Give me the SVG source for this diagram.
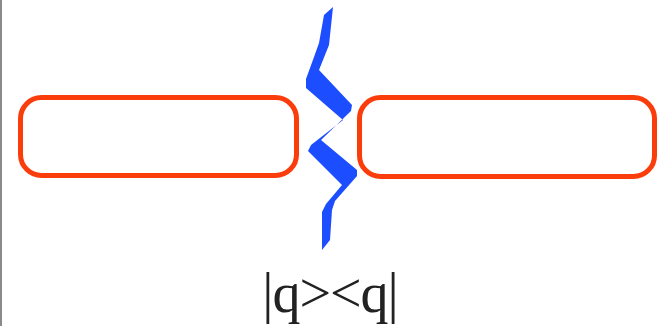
<svg xmlns="http://www.w3.org/2000/svg" width="658" height="326" viewBox="0 0 658 326">
<style>
.cell{fill:none;stroke:#fb3d0c;stroke-width:5}
.bolt{fill:#1c4dff;stroke:none}
.lbl{font-family:"Liberation Serif","Times New Roman",serif;font-size:56px;fill:#222}
</style>
<rect width="658" height="326" fill="#ffffff"/>
<line x1="1" y1="0" x2="1" y2="326" stroke="#8a8a8a" stroke-width="2"/>
<g id="left-cell"><rect class="cell" x="20.5" y="97.5" width="276" height="78" rx="21"/></g>
<g id="right-cell"><rect class="cell" x="359.5" y="97.5" width="295" height="79" rx="21"/></g>
<g id="connectors">
<polygon id="break" class="bolt" points="333,7 329,45 319,70 352,105 351,111 321,140 357,170 357,176 335,201 332,210 330,240 322,250 322,212 326,204 342,185 308,151 311,145 343,120 306,88 306,79 314,57 319,43 324,15"/>
</g>
<g id="label"><text class="lbl" x="330" y="312" text-anchor="middle" letter-spacing="-1">|q&gt;&lt;q|</text></g>
</svg>
